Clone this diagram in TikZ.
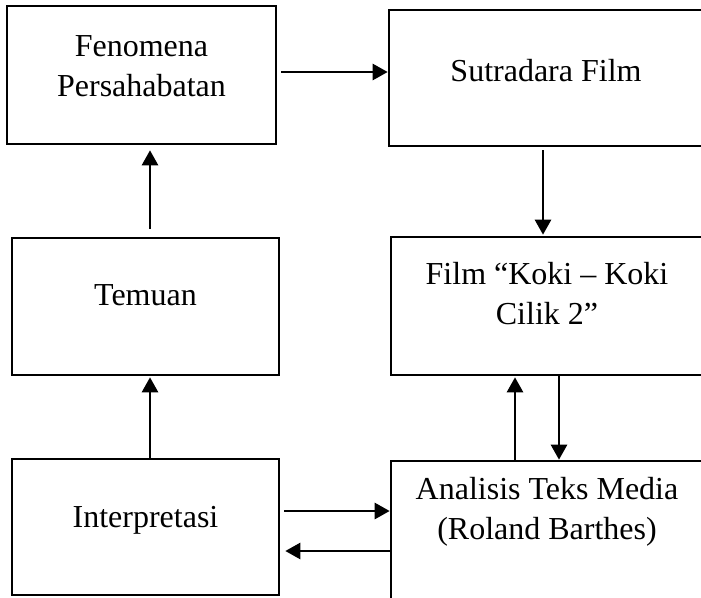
\documentclass[tikz,border=0pt]{standalone}
\usepackage{fontspec}
\setmainfont{Liberation Serif}
\usepackage{tikz}
\usetikzlibrary{positioning, arrows.meta, calc}

\tikzset{
  box/.style={draw, line width=2.6pt, rectangle, inner sep=0pt, fill=white},
  lbl/.style={align=center, inner sep=0pt, font=\fontsize{32}{40}\selectfont},
  arr/.style={line width=2.6pt, -{Triangle[length=15pt,width=16pt]}}
}

\begin{document}
\begin{tikzpicture}[x=1pt, y=-1pt]
        \useasboundingbox (0,0) rectangle (701,597);
        \clip (0,0) rectangle (701,597);

        % kotak kiri
        \node[box, minimum width=269pt, minimum height=138pt] (fen) at (141.5,75) {};
        \node[box, minimum width=267pt, minimum height=137pt] (tem) at (145.5,306.5) {};
        \node[box, minimum width=267pt, minimum height=136pt] (int) at (145.5,527) {};

        % kotak kanan
        \node[box, minimum width=314pt, minimum height=136pt] (sut) at (546,78) {};
        \node[box, minimum width=312pt, minimum height=138pt] (film) at (547,306) {};
        \node[box, minimum width=312pt, minimum height=180pt] (ana) at (547,551) {};

        % teks
        \node[lbl] (fenT) at (141.5,66.5) {Fenomena\\Persahabatan};
        \node[lbl] (temT) at (145.5,295.5) {Temuan};
        \node[lbl] (intT) at (145.5,520) {Interpretasi};
        \node[lbl] (sutT) at (546,71) {Sutradara Film};
        \node[lbl] (filmT) at (547,294) {Film ``Koki -- Koki\\Cilik 2''};
        \node[lbl] (anaT) at (547,511.5) {Analisis Teks Media\\(Roland Barthes)};

        % panah
        \draw[arr] ([xshift=4pt,yshift=3pt]fen.east) -- ([yshift=3pt]fen.east -| sut.west);
        \draw[arr] ([xshift=-3pt,yshift=-3pt]sut.south) -- ([xshift=-3pt,yshift=1pt]sut.south |- film.north);
        \draw[arr] ([xshift=12pt]film.south) -- ([xshift=12pt]film.south |- ana.north);
        \draw[arr] ([xshift=-32pt]ana.north) -- ([xshift=-32pt,yshift=-1pt]ana.north |- film.south);
        \draw[arr] ([xshift=4pt,yshift=16pt]int.east) -- ([yshift=16pt]int.east -| ana.west);
        \draw[arr] ([yshift=-24pt]int.east -| ana.west) -- ([xshift=5pt,yshift=-24pt]int.east);
        \draw[arr] ([xshift=4.5pt]int.north) -- ([xshift=4.5pt,yshift=-1pt]int.north |- tem.south);
        \draw[arr] ([xshift=4.5pt,yshift=8pt]tem.north) -- ([xshift=4.5pt,yshift=-5pt]tem.north |- fen.south);
      \end{tikzpicture}
\end{document}
